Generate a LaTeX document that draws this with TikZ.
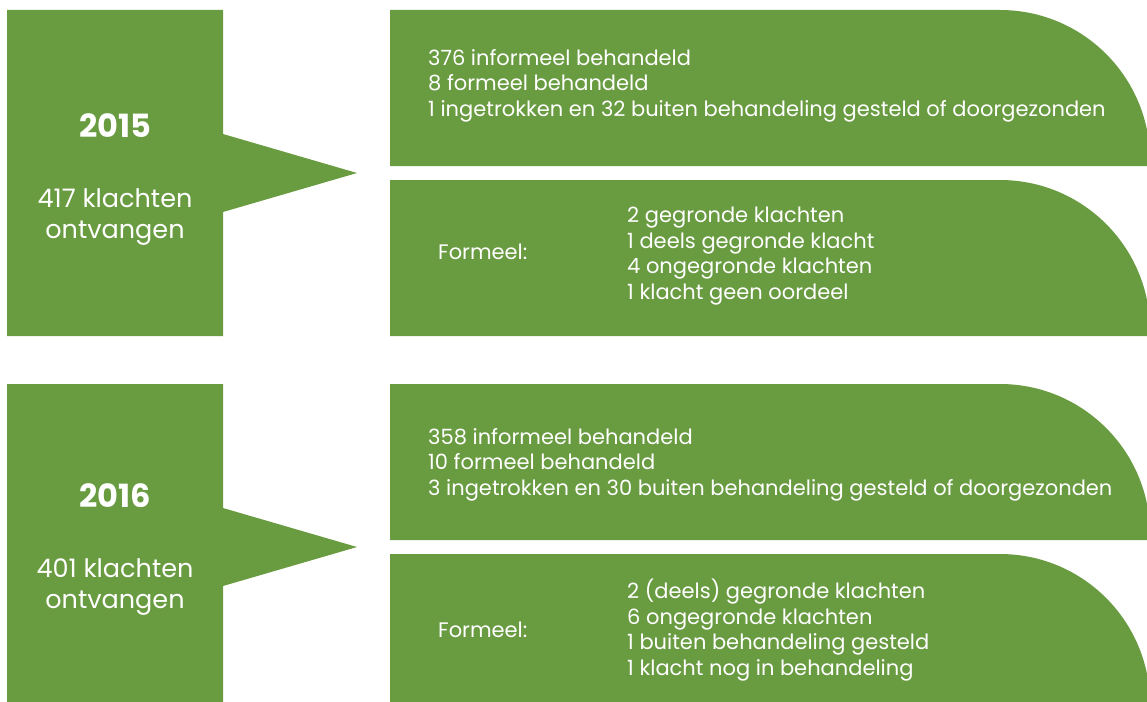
\documentclass[tikz,border=0pt]{standalone}
\usepackage{fontspec}
\setmainfont{Poppins}
\usepackage{tikz}
\definecolor{LeafGreen}{HTML}{699B41}

\begin{document}
\begin{tikzpicture}[x=1pt, y=-1pt,
    every node/.style={text=white, inner sep=0pt},
    year/.style={font=\bfseries\fontsize{32}{36}\selectfont, anchor=base},
    count/.style={font=\fontsize{25.5}{31}\selectfont, align=center, anchor=base},
    info/.style={font=\fontsize{21}{25.5}\selectfont, align=left, anchor=base west}]
  \useasboundingbox (0,0) rectangle (1147,701);
  \clip (0,0) rectangle (1147,701);
  % 2015
  \fill[LeafGreen] (7,10) -- (223,10) -- (223,134) -- (357,173) -- (223,212) -- (223,336) -- (7,336) -- cycle;
  \fill[LeafGreen] (390,166) -- (390,10) [rounded corners=150pt] -- (1150,10) [sharp corners] -- (1150,166) -- cycle;
  \fill[LeafGreen] (390,336) -- (390,180) [rounded corners=150pt] -- (1150,180) [sharp corners] -- (1150,336) -- cycle;
  \node[year] (y15) at (115,137) {2015};
  \node[count] (c15) at (115,238) {417 klachten\\ontvangen};
  \node[info] (i15) at (428,116) {376 informeel behandeld\\8 formeel behandeld\\1 ingetrokken en 32 buiten behandeling gesteld of doorgezonden};
  \node[info] (f15) at (438,259) {Formeel:};
  \node[info] (l15) at (627,299) {2 gegronde klachten\\1 deels gegronde klacht\\4 ongegronde klachten\\1 klacht geen oordeel};
  % 2016
  \fill[LeafGreen] (7,384) -- (223,384) -- (223,508) -- (357,547) -- (223,586) -- (223,710) -- (7,710) -- cycle;
  \fill[LeafGreen] (390,540) -- (390,384) [rounded corners=150pt] -- (1150,384) [sharp corners] -- (1150,540) -- cycle;
  \fill[LeafGreen] (390,710) -- (390,554) [rounded corners=150pt] -- (1150,554) [sharp corners] -- (1150,710) -- cycle;
  \node[year] (y16) at (115,507) {2016};
  \node[count] (c16) at (115,608) {401 klachten\\ontvangen};
  \node[info] (i16) at (428,495) {358 informeel behandeld\\10 formeel behandeld\\3 ingetrokken en 30 buiten behandeling gesteld of doorgezonden};
  \node[info] (f16) at (438,637) {Formeel:};
  \node[info] (l16) at (627,675) {2 (deels) gegronde klachten\\6 ongegronde klachten\\1 buiten behandeling gesteld\\1 klacht nog in behandeling};
\end{tikzpicture}
\end{document}
